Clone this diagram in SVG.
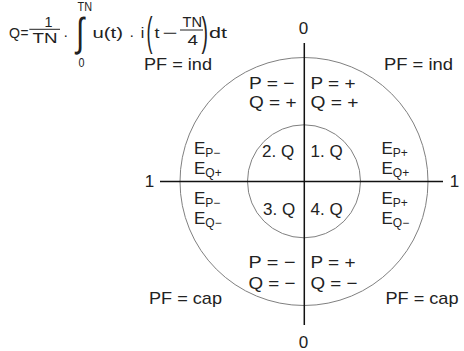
<svg xmlns="http://www.w3.org/2000/svg" width="464" height="351" viewBox="0 0 464 351">
<style>
.t{font-family:"Liberation Sans",Arial,sans-serif;font-size:17px;fill:#222}
.sub{font-size:12px}
.f{font-family:"Liberation Sans",Arial,sans-serif;font-size:15px;fill:#222}
.f.big{font-size:40px}
.f.sm{font-size:12px}
.circ{fill:none;stroke:#808080;stroke-width:1}
.axis{stroke:#111;stroke-width:1.5;fill:none}
.bar{stroke:#222;stroke-width:1}
</style>
<rect width="464" height="351" fill="#fff"/>
<g id="formula">
<text class="f" x="9" y="38.3" textLength="11" lengthAdjust="spacingAndGlyphs">Q</text>
<text class="f" x="20.5" y="38" textLength="8" lengthAdjust="spacingAndGlyphs">=</text>
<text class="f" x="44.5" y="26.7" textLength="8" lengthAdjust="spacingAndGlyphs">1</text>
<line class="bar" x1="29.3" y1="29.3" x2="60" y2="29.3"/>
<text class="f" x="32.5" y="43.3" textLength="25" lengthAdjust="spacingAndGlyphs">TN</text>
<text class="f" x="65.7" y="39.5" text-anchor="middle">·</text>
<text class="f big" x="76" y="46" textLength="8" lengthAdjust="spacingAndGlyphs">∫</text>
<text class="f sm" x="77.5" y="10.5" textLength="14.5" lengthAdjust="spacingAndGlyphs">TN</text>
<text class="f sm" x="78.5" y="67" textLength="6" lengthAdjust="spacingAndGlyphs">0</text>
<text class="f" x="92.5" y="38.3" textLength="30.5" lengthAdjust="spacingAndGlyphs">u(t)</text>
<text class="f" x="131.7" y="39.5" text-anchor="middle">·</text>
<text class="f" x="140.8" y="38.3" textLength="3.5" lengthAdjust="spacingAndGlyphs">i</text>
<text class="f big" x="146.5" y="46" textLength="6" lengthAdjust="spacingAndGlyphs">(</text>
<text class="f" x="154.5" y="38.3" textLength="5" lengthAdjust="spacingAndGlyphs">t</text>
<text class="f" x="162.5" y="38.3" textLength="15" lengthAdjust="spacingAndGlyphs">−</text>
<text class="f" x="182.5" y="26.7" textLength="19.5" lengthAdjust="spacingAndGlyphs">TN</text>
<line class="bar" x1="180" y1="30" x2="203" y2="30"/>
<text class="f" x="187.5" y="45" textLength="10.5" lengthAdjust="spacingAndGlyphs">4</text>
<text class="f big" x="201.5" y="46" textLength="6.5" lengthAdjust="spacingAndGlyphs">)</text>
<text class="f" x="209" y="38.3" textLength="18" lengthAdjust="spacingAndGlyphs">dt</text>
</g>
<g id="circles">
<circle id="outer" class="circ" cx="304" cy="181.5" r="124"/>
<circle id="inner" class="circ" cx="304" cy="181.3" r="56.5"/>
</g>
<g id="connectors">
<line class="axis" x1="304.3" y1="43" x2="304.3" y2="325"/>
<line class="axis" x1="160" y1="181.5" x2="443" y2="181.5"/>
</g>
<g id="axis-labels">
<text class="t" x="303.5" y="34" text-anchor="middle">0</text>
<text class="t" x="303.5" y="348" text-anchor="middle">0</text>
<text class="t" x="149.5" y="187" text-anchor="middle">1</text>
<text class="t" x="454.5" y="187" text-anchor="middle">1</text>
</g>
<g id="pf-labels">
<text class="t" x="144" y="69.5" textLength="68" lengthAdjust="spacingAndGlyphs">PF = ind</text>
<text class="t" x="384" y="69.5" textLength="69" lengthAdjust="spacingAndGlyphs">PF = ind</text>
<text class="t" x="149" y="304" textLength="73" lengthAdjust="spacingAndGlyphs">PF = cap</text>
<text class="t" x="385.5" y="304" textLength="73" lengthAdjust="spacingAndGlyphs">PF = cap</text>
</g>
<g id="sign-labels">
<text class="t" x="249" y="88.5" textLength="45.5" lengthAdjust="spacingAndGlyphs">P = −</text>
<text class="t" x="249" y="108.3" textLength="47.5" lengthAdjust="spacingAndGlyphs">Q = +</text>
<text class="t" x="310.5" y="88.5" textLength="45" lengthAdjust="spacingAndGlyphs">P = +</text>
<text class="t" x="310.5" y="108.3" textLength="48" lengthAdjust="spacingAndGlyphs">Q = +</text>
<text class="t" x="248.5" y="268.3" textLength="47" lengthAdjust="spacingAndGlyphs">P = −</text>
<text class="t" x="248.5" y="289.3" textLength="47" lengthAdjust="spacingAndGlyphs">Q = −</text>
<text class="t" x="310.5" y="268.3" textLength="45" lengthAdjust="spacingAndGlyphs">P = +</text>
<text class="t" x="310.5" y="289.3" textLength="47" lengthAdjust="spacingAndGlyphs">Q = −</text>
</g>
<g id="quadrants">
<text class="t" x="262" y="157.3">2. Q</text>
<text class="t" x="310.5" y="157.3">1. Q</text>
<text class="t" x="263" y="215">3. Q</text>
<text class="t" x="310.5" y="215">4. Q</text>
</g>
<g id="energy-labels">
<text class="t" x="194" y="153.5">E<tspan class="sub" dy="3">P−</tspan></text>
<text class="t" x="194" y="173.5">E<tspan class="sub" dy="3">Q+</tspan></text>
<text class="t" x="194" y="203.5">E<tspan class="sub" dy="3">P−</tspan></text>
<text class="t" x="194" y="223.5">E<tspan class="sub" dy="3">Q−</tspan></text>
<text class="t" x="381.5" y="153.5">E<tspan class="sub" dy="3">P+</tspan></text>
<text class="t" x="381.5" y="173.5">E<tspan class="sub" dy="3">Q+</tspan></text>
<text class="t" x="381.5" y="203.5">E<tspan class="sub" dy="3">P+</tspan></text>
<text class="t" x="381.5" y="223.5">E<tspan class="sub" dy="3">Q−</tspan></text>
</g>
</svg>
